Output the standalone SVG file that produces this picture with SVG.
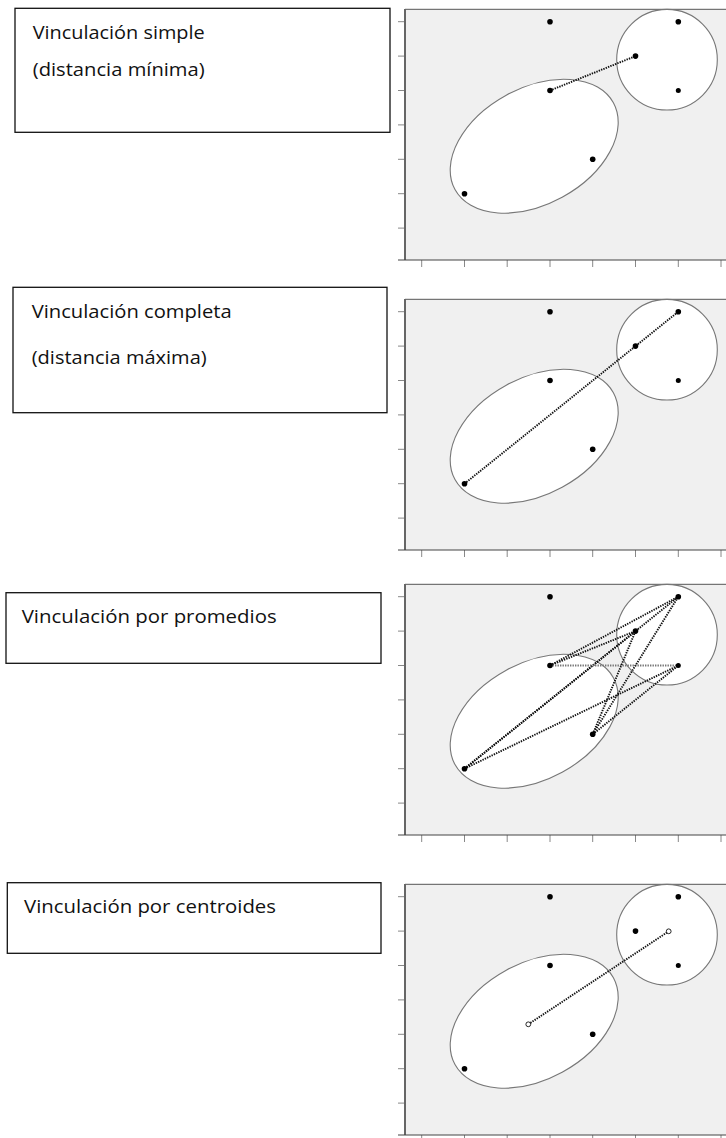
<svg xmlns="http://www.w3.org/2000/svg" xmlns:xlink="http://www.w3.org/1999/xlink" width="726" height="1138" viewBox="0 0 726 1138">
<style>
.box{fill:#fff;stroke:#111;stroke-width:1.3}
.lbl{font-family:"Open Sans","Liberation Sans",sans-serif;font-size:18.5px;fill:#111}
.bg{fill:#f0f0f0}
.frame{stroke:#555;stroke-width:1;fill:none}
.yaxis{stroke:#666;stroke-width:2}
.xaxis{stroke:#444;stroke-width:1.2}
.tick{stroke:#888;stroke-width:1;fill:none}
.cl{fill:#fff;stroke:#777;stroke-width:1.1}
.pt{fill:#000}
.cen{fill:#fff;stroke:#111;stroke-width:0.9}
.link{stroke:#111;stroke-width:1.9;stroke-dasharray:1.4 1.1;fill:none}
</style>
<defs>
<g id="axes">
<rect class="bg" x="405" y="9.3" width="325" height="250.7"/>
<line class="frame" x1="405" y1="9.3" x2="726" y2="9.3"/>
<path class="tick" d="M398 21.7h7M398 56.1h7M398 90.5h7M398 124.9h7M398 159.3h7M398 193.7h7M398 228.1h7M421.7 260v7M464.5 260v7M507.2 260v7M550 260v7M592.7 260v7M635.5 260v7M678.3 260v7M721 260v7"/>
<line class="yaxis" x1="405" y1="9" x2="405" y2="260"/>
<line class="xaxis" x1="398" y1="260" x2="726" y2="260"/>
</g>
<g id="clusters">
<ellipse class="cl" cx="534.2" cy="146.2" rx="90.3" ry="58.2" transform="rotate(-28.7 534.2 146.2)"/>
<circle class="cl" cx="667" cy="59.7" r="50.3"/>
</g>
<g id="points">
<circle class="pt" cx="550" cy="21.7" r="2.8"/>
<circle class="pt" cx="678.3" cy="21.7" r="2.8"/>
<circle class="pt" cx="635.5" cy="56.1" r="2.8"/>
<circle class="pt" cx="678.3" cy="90.5" r="2.5"/>
<circle class="pt" cx="550" cy="90.5" r="2.8"/>
<circle class="pt" cx="592.7" cy="159.3" r="2.8"/>
<circle class="pt" cx="464.5" cy="193.7" r="2.8"/>
</g>
</defs>

<g id="panel1">
<g id="label1">
<rect class="box" x="15" y="8.3" width="375" height="124"/>
<text class="lbl" x="32.7" y="39.3" textLength="172" lengthAdjust="spacingAndGlyphs">Vinculación simple</text>
<text class="lbl" x="32.7" y="76" textLength="172" lengthAdjust="spacingAndGlyphs">(distancia mínima)</text>
</g>
<g id="plot1"><use xlink:href="#axes"/><use xlink:href="#clusters"/></g>
</g>

<g id="panel2">
<g id="label2">
<rect class="box" x="13" y="287.3" width="374" height="125.4"/>
<text class="lbl" x="31.7" y="318.3" textLength="200" lengthAdjust="spacingAndGlyphs">Vinculación completa</text>
<text class="lbl" x="31.7" y="364" textLength="175" lengthAdjust="spacingAndGlyphs">(distancia máxima)</text>
</g>
<g id="plot2" transform="translate(0,290)"><use xlink:href="#axes"/><use xlink:href="#clusters"/></g>
</g>

<g id="panel3">
<g id="label3">
<rect class="box" x="6" y="592.7" width="375" height="70.6"/>
<text class="lbl" x="21.7" y="623" textLength="255" lengthAdjust="spacingAndGlyphs">Vinculación por promedios</text>
</g>
<g id="plot3" transform="translate(0,575)"><use xlink:href="#axes"/><use xlink:href="#clusters"/></g>
</g>

<g id="panel4">
<g id="label4">
<rect class="box" x="7.3" y="882.7" width="373.7" height="70.6"/>
<text class="lbl" x="24" y="912.5" textLength="252" lengthAdjust="spacingAndGlyphs">Vinculación por centroides</text>
</g>
<g id="plot4" transform="translate(0,875)"><use xlink:href="#axes"/><use xlink:href="#clusters"/></g>
</g>

<g id="connectors">
<g id="links1">
<line class="link" x1="550" y1="90.5" x2="635.5" y2="56.1"/>
</g>
<g id="links2" transform="translate(0,290)">
<line class="link" x1="464.5" y1="193.7" x2="678.3" y2="21.7"/>
</g>
<g id="links3" transform="translate(0,575)">
<line class="link" x1="464.5" y1="193.7" x2="678.3" y2="21.7"/>
<line class="link" x1="464.5" y1="193.7" x2="635.5" y2="56.1"/>
<line class="link" x1="464.5" y1="193.7" x2="678.3" y2="90.5"/>
<line class="link" x1="550" y1="90.5" x2="678.3" y2="21.7"/>
<line class="link" x1="550" y1="90.5" x2="635.5" y2="56.1"/>
<line class="link" x1="550" y1="90.5" x2="678.3" y2="90.5" style="stroke:#777"/>
<line class="link" x1="592.7" y1="159.3" x2="678.3" y2="21.7"/>
<line class="link" x1="592.7" y1="159.3" x2="635.5" y2="56.1"/>
<line class="link" x1="592.7" y1="159.3" x2="678.3" y2="90.5"/>
</g>
<g id="links4" transform="translate(0,875)">
<line class="link" x1="528.3" y1="149.3" x2="668.7" y2="56.3"/>
</g>
</g>

<g id="points1"><use xlink:href="#points"/></g>
<g id="points2" transform="translate(0,290)"><use xlink:href="#points"/></g>
<g id="points3" transform="translate(0,575)"><use xlink:href="#points"/></g>
<g id="points4" transform="translate(0,875)"><use xlink:href="#points"/>
<g id="centroids">
<circle class="cen" cx="528.3" cy="149.3" r="2.4"/>
<circle class="cen" cx="668.7" cy="56.3" r="2.4"/>
</g>
</g>
</svg>
